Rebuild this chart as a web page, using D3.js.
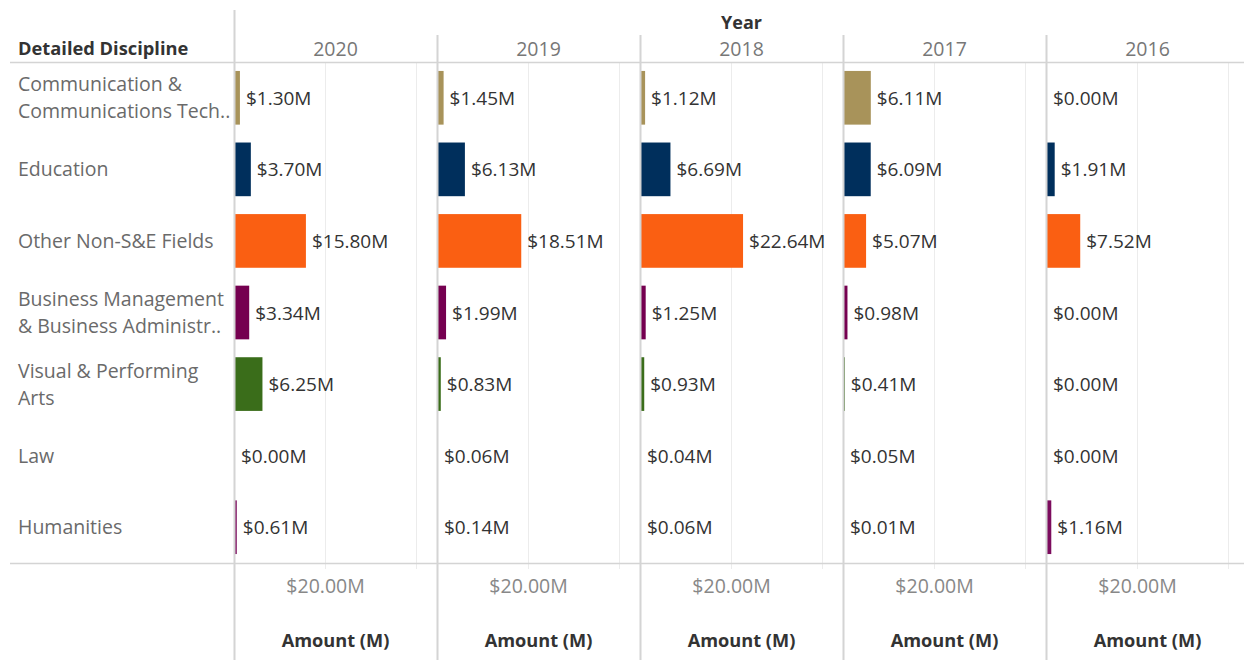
<!DOCTYPE html>
<html>
<head>
<meta charset="utf-8">
<script src="https://cdn.jsdelivr.net/npm/d3@7"></script>
<style>
  body { margin: 0; background: #fff; }
  svg { display: block; font-family: "Open Sans", sans-serif; }
</style>
</head>
<body>
<script>
// data (values in $M)
var years = ["2020", "2019", "2018", "2017", "2016"];

var categories = [
  "Communication & Communications Technologies",
  "Education",
  "Other Non-S&E Fields",
  "Business Management & Business Administration",
  "Visual & Performing Arts",
  "Law",
  "Humanities"
];

// how the row headers are wrapped / truncated
var labelLines = [
  ["Communication &", "Communications Tech.."],
  ["Education"],
  ["Other Non-S&E Fields"],
  ["Business Management", "& Business Administr.."],
  ["Visual & Performing", "Arts"],
  ["Law"],
  ["Humanities"]
];

var colors = ["#a8935a", "#002f5c", "#fa5f12", "#750050", "#3a6d1a", "#888888", "#7c0c5e"];

var amounts2020 = [1.30, 3.70, 15.80, 3.34, 6.25, 0.00, 0.61];
var amounts2019 = [1.45, 6.13, 18.51, 1.99, 0.83, 0.06, 0.14];
var amounts2018 = [1.12, 6.69, 22.64, 1.25, 0.93, 0.04, 0.06];
var amounts2017 = [6.11, 6.09, 5.07, 0.98, 0.41, 0.05, 0.01];
var amounts2016 = [0.00, 1.91, 7.52, 0.00, 0.00, 0.00, 1.16];

var amounts = [amounts2020, amounts2019, amounts2018, amounts2017, amounts2016];

var tickValues = [20, 40];
var tickLabels = ["$20.00M", ""];

// layout
var W = 1244, H = 660;
var leftX = 234, panelW = 203;
var topY = 62, bottomY = 563;

var svg = d3.select("body").append("svg")
  .attr("width", W)
  .attr("height", H);

var y = d3.scaleBand()
  .domain(categories)
  .range([topY, bottomY])
  .paddingInner(0.25)
  .paddingOuter(0.125);

var x = d3.scaleLinear()
  .domain([0, 44.6])
  .range([0, panelW]);

var fmt = function(v){ return "$" + d3.format(".2f")(v) + "M"; };

//gridlines first so everything sits on top
years.forEach(function(yr, i){
  var px = leftX + i * panelW;
  svg.append("g")
    .selectAll("line")
    .data(tickValues)
    .enter()
    .append("line")
    .attr("x1", function(d){ return px + Math.round(x(d)) + 0.5; })
    .attr("x2", function(d){ return px + Math.round(x(d)) + 0.5; })
    .attr("y1", topY)
    .attr("y2", bottomY + 6)
    .attr("stroke", "#ececec");
});

// header texts
svg.append("text")
  .attr("x", leftX + (W + 5 - leftX) / 2)
  .attr("y", 29)
  .attr("text-anchor", "middle")
  .attr("font-size", 18)
  .attr("font-weight", "bold")
  .attr("fill", "#333")
  .text("Year");

svg.append("text")
  .attr("x", 18)
  .attr("y", 55)
  .attr("font-size", 18.3)
  .attr("font-weight", "bold")
  .attr("fill", "#333")
  .text("Detailed Discipline");

// row headers
var rows = svg.append("g").selectAll("text")
  .data(categories)
  .enter()
  .append("text")
  .attr("font-size", 19.5)
  .attr("fill", "#6a6a6a");

rows.each(function(d, i){
  var lines = labelLines[i];
  var cy = y(d) + y.bandwidth() / 2;
  var start = cy - (lines.length - 1) * 13.5 + 7;
  d3.select(this).selectAll("tspan")
    .data(lines)
    .enter()
    .append("tspan")
    .attr("x", 18)
    .attr("y", function(l, j){ return start + j * 27; })
    .text(function(l){ return l; });
});

// panels
years.forEach(function(yr, i){
  var px = leftX + i * panelW;
  var g = svg.append("g").attr("transform", "translate(" + px + ",0)");
  var vals = amounts[i];

  g.append("text")
    .attr("x", panelW / 2)
    .attr("y", 56)
    .attr("text-anchor", "middle")
    .attr("font-size", 19.5)
    .attr("fill", "#777")
    .text(yr);

  g.selectAll("rect")
    .data(categories)
    .enter()
    .append("rect")
    .attr("x", 0)
    .attr("y", function(d){ return y(d); })
    .attr("height", y.bandwidth())
    .attr("width", function(d, j){ return x(vals[j]) - x(0); })
    .attr("fill", function(d, j){ return colors[j]; });

  g.selectAll(".val")
    .data(categories)
    .enter()
    .append("text")
    .attr("class", "val")
    .attr("x", function(d, j){ return Math.max(x(vals[j]) + 6, 7); })
    .attr("y", function(d){ return y(d) + y.bandwidth() / 2 + 7; })
    .attr("font-size", 19)
    .attr("fill", "#333")
    .text(function(d, j){ return fmt(vals[j]); });

  // bottom axis
  var axis = d3.axisBottom(x)
    .tickValues(tickValues)
    .tickSize(0)
    .tickFormat(function(d, k){ return tickLabels[k]; });

  var ag = g.append("g")
    .attr("transform", "translate(0," + (bottomY + 13) + ")")
    .call(axis);
  ag.select(".domain").remove();
  ag.selectAll("text")
    .attr("font-size", 19.5)
    .attr("font-family", "Open Sans, sans-serif")
    .attr("fill", "#888");

  g.append("text")
    .attr("x", panelW / 2)
    .attr("y", 647)
    .attr("text-anchor", "middle")
    .attr("font-size", 18.2)
    .attr("font-weight", "bold")
    .attr("fill", "#333")
    .text("Amount (M)");
});

// frame lines drawn last, they sit over the start of the bars
var lineColor = "#d4d4d4";
svg.append("line").attr("x1", 10).attr("x2", W).attr("y1", topY + 0.5).attr("y2", topY + 0.5).attr("stroke", lineColor).attr("stroke-width", 1.5);
svg.append("line").attr("x1", 10).attr("x2", W).attr("y1", bottomY + 0.5).attr("y2", bottomY + 0.5).attr("stroke", lineColor).attr("stroke-width", 1.5);
svg.append("line").attr("x1", leftX + 0.5).attr("x2", leftX + 0.5).attr("y1", 10).attr("y2", H).attr("stroke", lineColor).attr("stroke-width", 2);
years.forEach(function(yr, i){
  if(i === 0) return;
  var px = leftX + i * panelW + 0.5;
  svg.append("line").attr("x1", px).attr("x2", px).attr("y1", 35).attr("y2", H).attr("stroke", lineColor).attr("stroke-width", 2);
});
</script>
</body>
</html>
